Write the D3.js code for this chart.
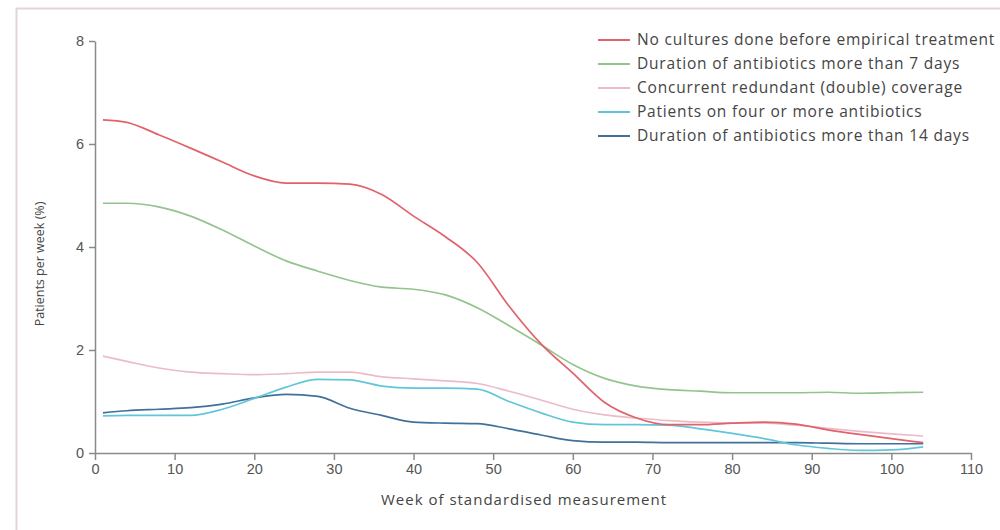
<!DOCTYPE html>
<html>
<head>
<meta charset="utf-8">
<style>
    body { margin: 0; background: #fff; }
    svg { display: block; font-family: 'Open Sans', sans-serif; }
    .axis path, .axis line { stroke: #8a8a8a; stroke-width: 1.5px; }
    .axis text { fill: #555; font-size: 14.5px; }
    .series { fill: none; stroke-width: 1.7px; stroke-linejoin: round; }
    .legend text { fill: #444; font-size: 15.5px; letter-spacing: 0.8px; }
</style>
<script src="https://cdn.jsdelivr.net/npm/d3@7"></script>
</head>
<body>
<div id="chart"></div>
<script>
    // week of standardised measurement
    var weeks = [1, 4, 8, 12, 16, 20, 24, 28, 32, 36, 40, 44, 48, 52, 56, 60, 64, 68, 72, 76, 80, 84, 88, 92, 96, 100, 104];

    var noCultures = [6.47, 6.42, 6.18, 5.92, 5.65, 5.38, 5.24, 5.24, 5.22, 5.02, 4.6, 4.2, 3.7, 2.85, 2.12, 1.55, 0.98, 0.68, 0.55, 0.55, 0.58, 0.6, 0.56, 0.45, 0.36, 0.28, 0.2];
    var duration7 = [4.85, 4.85, 4.78, 4.6, 4.33, 4.02, 3.73, 3.53, 3.35, 3.22, 3.18, 3.07, 2.82, 2.47, 2.1, 1.72, 1.45, 1.3, 1.23, 1.2, 1.17, 1.17, 1.17, 1.18, 1.16, 1.17, 1.18];
    var redundant = [1.88, 1.78, 1.65, 1.57, 1.54, 1.52, 1.54, 1.57, 1.57, 1.48, 1.44, 1.4, 1.35, 1.2, 1.03, 0.85, 0.74, 0.68, 0.63, 0.6, 0.58, 0.58, 0.54, 0.48, 0.42, 0.37, 0.33];
    var fourOrMore = [0.72, 0.73, 0.73, 0.73, 0.85, 1.06, 1.28, 1.43, 1.42, 1.3, 1.26, 1.26, 1.24, 1.0, 0.78, 0.6, 0.55, 0.55, 0.54, 0.47, 0.38, 0.28, 0.16, 0.09, 0.05, 0.06, 0.12];
    var duration14 = [0.78, 0.82, 0.85, 0.88, 0.95, 1.07, 1.14, 1.1, 0.87, 0.73, 0.6, 0.58, 0.57, 0.47, 0.35, 0.24, 0.21, 0.21, 0.2, 0.2, 0.2, 0.2, 0.2, 0.19, 0.18, 0.18, 0.18];

    var seriesNames = ["No cultures done before empirical treatment",
        "Duration of antibiotics more than 7 days",
        "Concurrent redundant (double) coverage",
        "Patients on four or more antibiotics",
        "Duration of antibiotics more than 14 days"];
    var seriesValues = [noCultures, duration7, redundant, fourOrMore, duration14];
    var colors = ["#e2626c", "#93c48e", "#ebbcc8", "#62c6da", "#41719a"];

    var xTicks = [0, 10, 20, 30, 40, 50, 60, 70, 80, 90, 100, 110];
    var yTicks = [0, 2, 4, 6, 8];

    var width = 1000, height = 530;
    var margin = { top: 41, right: 24, bottom: 77, left: 95 };

    var svg = d3.select("#chart").append("svg")
        .attr("width", width)
        .attr("height", height);

    // frame round the figure
    svg.append("rect")
        .attr("x", 16.5).attr("y", 8.5)
        .attr("width", 1000).attr("height", 600)
        .attr("fill", "none")
        .attr("stroke", "#e6d3da")
        .attr("stroke-width", 2);

    var x = d3.scaleLinear().domain([0, 110]).range([margin.left, width - margin.right - 5]);
    var y = d3.scaleLinear().domain([0, 8]).range([height - margin.bottom, margin.top]);

    svg.append("g")
        .attr("class", "axis")
        .attr("transform", "translate(0," + y(0) + ")")
        .call(d3.axisBottom(x).tickValues(xTicks).tickSize(7).tickSizeOuter(0).tickPadding(4));

    svg.append("g")
        .attr("class", "axis")
        .attr("transform", "translate(" + x(0) + ",0)")
        .call(d3.axisLeft(y).tickValues(yTicks).tickSize(6).tickSizeOuter(0).tickPadding(5));

    var line = d3.line()
        .x(function (d) { return x(d[0]); })
        .y(function (d) { return y(d[1]); })
        .curve(d3.curveMonotoneX);

    // draw bottom series first so the red one sits on top
    for (var i = seriesValues.length - 1; i >= 0; i--) {
        svg.append("path")
            .attr("class", "series")
            .attr("stroke", colors[i])
            .attr("d", line(weeks.map(function (w, j) { return [w, seriesValues[i][j]]; })));
    }

    // legend
    var legend = svg.append("g").attr("class", "legend");
    seriesNames.forEach(function (name, i) {
        var ly = 40 + i * 24;
        legend.append("line")
            .attr("x1", 598).attr("x2", 630)
            .attr("y1", ly).attr("y2", ly)
            .attr("stroke", colors[i])
            .attr("stroke-width", 2);
        legend.append("text")
            .attr("x", 637).attr("y", ly)
            .attr("dy", "0.35em")
            .text(name);
    });

    // axis titles
    svg.append("text")
        .attr("x", 524)
        .attr("y", 500)
        .attr("text-anchor", "middle")
        .attr("dy", "0.35em")
        .style("font-size", "15px")
        .style("letter-spacing", "1px")
        .style("fill", "#444")
        .text("Week of standardised measurement");

    svg.append("text")
        .attr("transform", "translate(40," + 264 + ") rotate(-90)")
        .attr("text-anchor", "middle")
        .attr("dy", "0.35em")
        .style("font-size", "12.5px")
        .style("fill", "#444")
        .text("Patients per week (%)");
</script>
</body>
</html>
